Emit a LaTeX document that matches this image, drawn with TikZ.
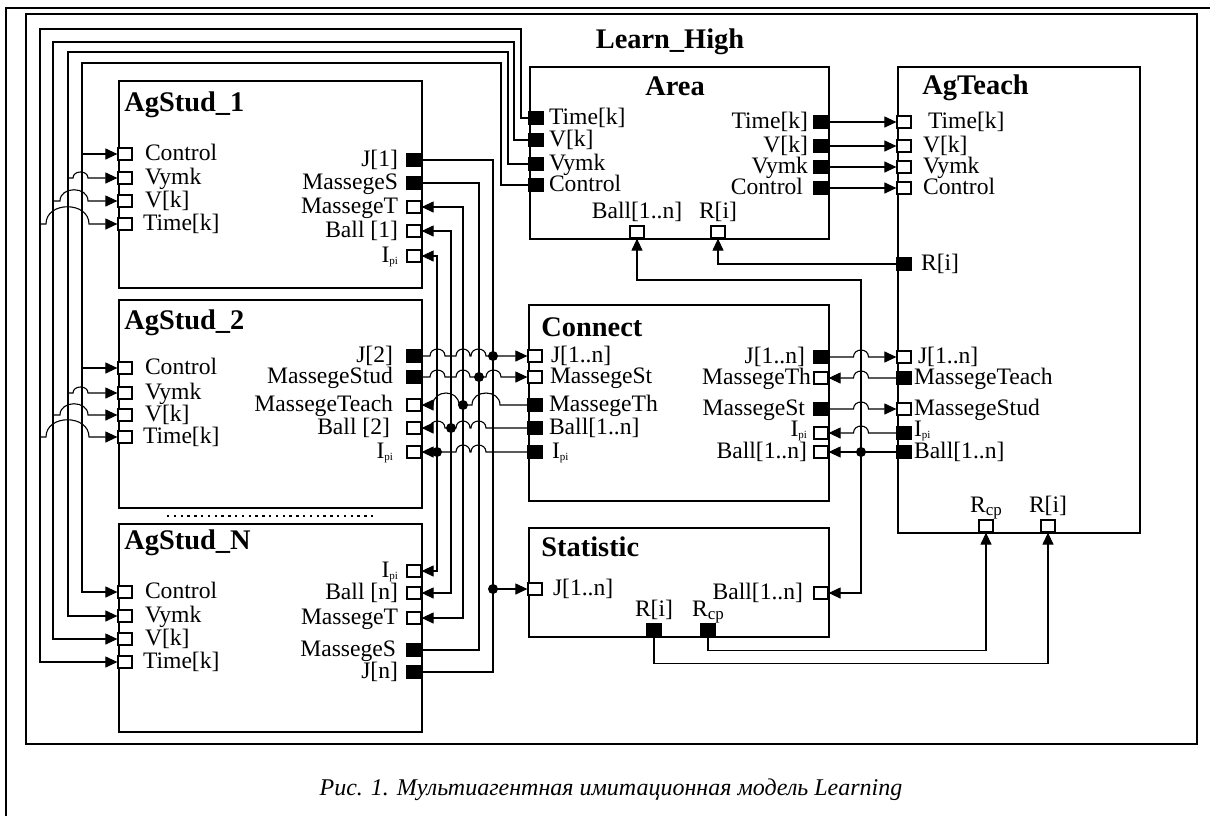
\documentclass[tikz,border=0pt]{standalone}
\usepackage{fontspec}
\setmainfont{Liberation Serif}
\usetikzlibrary{arrows.meta,positioning}
\newcommand\portfont{\fontsize{11.8pt}{12pt}\selectfont}
\newcommand\blockfont{\fontsize{14.2pt}{16pt}\selectfont\bfseries}
\newcommand\Ipi{I\raisebox{-1.2pt}{\fontsize{5.5pt}{6pt}\selectfont pi}}
\newcommand\Rcp{R\raisebox{-1.5pt}{\fontsize{8.5pt}{9pt}\selectfont cp}}
% jump of a wire over a crossing one
\newcommand\hop[4]{-- (#1,#3) .. controls +(0,-#4) and +(0,-#4) .. (#2,#3)}
\tikzset{
  block/.style={draw, line width=1.15pt, inner sep=0pt, anchor=north west},
  blocktitle/.style={font=\blockfont, inner sep=0pt, anchor=base west},
  pinw/.style={draw, fill=white, line width=0.6pt, minimum width=7pt, minimum height=6pt, inner sep=0pt},
  pinb/.style={pinw, fill=black},
  lbl/.style={font=\portfont, inner sep=0pt, text height=7.5pt, text depth=1.5pt},
  toR/.style 2 args={label={[lbl,label distance=#1]right:{#2}}},
  toL/.style 2 args={label={[lbl,label distance=#1]left:{#2}}},
  toU/.style 2 args={label={[lbl,label distance=#1]above:{#2}}},
  wire/.style={line width=0.55pt},
  junction/.style={circle, fill=black, inner sep=0pt, minimum size=5pt},
  >={Triangle[length=6pt,width=5.5pt]},
}
\begin{document}
\begin{tikzpicture}[x=0.5pt, y=-0.5pt]
  \useasboundingbox (0,0) rectangle (1210,816);
  % frames
  \draw[line width=1pt] (6,816) -- (6,8) -- (1210,8);
  \draw[line width=1.4pt] (26,14) rectangle (1197,744);
  \node[blocktitle, anchor=base] (lh) at (670,48) {Learn\_High};

  % blocks
  \node[block, minimum width=151.5pt, minimum height=103.5pt] (s1) at (118,80) {};
  \node[block, minimum width=151.5pt, minimum height=104pt] (s2) at (118,299) {};
  \node[block, minimum width=151.5pt, minimum height=104pt] (sN) at (118,523) {};
  \node[block, minimum width=149.5pt, minimum height=86pt] (area) at (529,66) {};
  \node[block, minimum width=121pt, minimum height=233pt] (teach) at (897,66) {};
  \node[block, minimum width=150pt, minimum height=98pt] (conn) at (528,304) {};
  \node[block, minimum width=150pt, minimum height=54.5pt] (stat) at (528,527) {};
  \node[blocktitle] (s1t) at (124,111) {AgStud\_1};
  \node[blocktitle] (s2t) at (124,329) {AgStud\_2};
  \node[blocktitle] (sNt) at (124,549) {AgStud\_N};
  \node[blocktitle, anchor=base] (areat) at (675,95) {Area};
  \node[blocktitle] (teacht) at (922,94) {AgTeach};
  \node[blocktitle] (connt) at (541,336) {Connect};
  \node[blocktitle] (statt) at (541,556) {Statistic};
  \draw[dash pattern=on 1.2pt off 2.2pt, line width=0.6pt] (167,516) -- (373,516);

  % student inputs
  \foreach \s/\yc/\ym/\yv/\yt in {1/154/178/201/224, 2/368/393/415/437, N/592/616/639/662}{
    \node[pinw, toR={6pt}{Control}] (s\s ctl) at (125,\yc) {};
    \node[pinw, toR={6pt}{Vymk}] (s\s vym) at (125,\ym) {};
    \node[pinw, toR={6pt}{V[k]}] (s\s vk) at (125,\yv) {};
    \node[pinw, toR={5pt}{Time[k]}] (s\s tk) at (125,\yt) {};
  }
  % student outputs
  \node[pinb, toL={4pt}{J[1]}] (s1J) at (414,160) {};
  \node[pinb, toL={4pt}{MassegeS}] (s1MS) at (414,183) {};
  \node[pinw, toL={4pt}{MassegeT}] (s1MT) at (414,207) {};
  \node[pinw, toL={4pt}{Ball [1]}] (s1Ball) at (414,231) {};
  \node[pinw, toL={4pt}{\Ipi}] (s1Ip) at (414,256) {};
  \node[pinb, toL={6.5pt}{J[2]}] (s2J) at (414,356) {};
  \node[pinb, toL={6.5pt}{MassegeStud}] (s2MS) at (414,377) {};
  \node[pinw, toL={6.5pt}{MassegeTeach}] (s2MT) at (414,405) {};
  \node[pinw, toL={8pt}{Ball [2]}] (s2Ball) at (414,428) {};
  \node[pinw, toL={6.5pt}{\Ipi}] (s2Ip) at (414,452) {};
  \node[pinw, toL={4pt}{\Ipi}] (sNIp) at (414,571) {};
  \node[pinw, toL={4pt}{Ball [n]}] (sNBall) at (414,593) {};
  \node[pinw, toL={4pt}{MassegeT}] (sNMT) at (414,618) {};
  \node[pinb, toL={5pt}{MassegeS}] (sNMS) at (414,650) {};
  \node[pinb, toL={4pt}{J[n]}] (sNJ) at (414,672) {};

  % Area
  \node[pinb, toR={2.5pt}{Time[k]}] (aTk) at (536,118) {};
  \node[pinb, toR={2.5pt}{V[k]}] (aVk) at (536,140) {};
  \node[pinb, toR={2.5pt}{Vymk}] (aVym) at (536,164) {};
  \node[pinb, toR={2.5pt}{Control}] (aCtl) at (536,185) {};
  \node[pinb, toL={2.5pt}{Time[k]}] (aTkR) at (821,122) {};
  \node[pinb, toL={2.5pt}{V[k]}] (aVkR) at (821,146) {};
  \node[pinb, toL={2.5pt}{Vymk}] (aVymR) at (821,167) {};
  \node[pinb, toL={5pt}{Control}] (aCtlR) at (821,188) {};
  \node[pinw, toU={2pt}{Ball[1..n]}] (aBall) at (637,232) {};
  \node[pinw, toU={2pt}{R[i]}] (aRi) at (718,232) {};

  % AgTeach
  \node[pinw, toR={8pt}{Time[k]}] (tTk) at (904,122) {};
  \node[pinw, toR={5.5pt}{V[k]}] (tVk) at (904,146) {};
  \node[pinw, toR={5.5pt}{Vymk}] (tVym) at (904,167) {};
  \node[pinw, toR={5.5pt}{Control}] (tCtl) at (904,188) {};
  \node[pinb, toR={4.5pt}{R[i]}] (tRi) at (904,264) {};
  \node[pinw, toR={3pt}{J[1..n]}] (tJ) at (904,357) {};
  \node[pinb, toR={1pt}{MassegeTeach}] (tMT) at (904,378) {};
  \node[pinw, toR={1pt}{MassegeStud}] (tMS) at (904,409) {};
  \node[pinb, label={[lbl,label distance=1pt,yshift=1.5pt]right:{\Ipi}}] (tIp) at (904,433) {};
  \node[pinb, toR={1pt}{Ball[1..n]}] (tBall) at (904,452) {};
  \node[pinw, toU={2pt}{\Rcp}] (tRcp) at (986,526) {};
  \node[pinw, toU={2pt}{R[i]}] (tRi2) at (1048,526) {};

  % Connect
  \node[pinw, toR={4pt}{J[1..n]}] (cJ) at (535,356) {};
  \node[pinw, toR={3.5pt}{MassegeSt}] (cMS) at (535,377) {};
  \node[pinb, toR={3pt}{MassegeTh}] (cMT) at (535,405) {};
  \node[pinb, toR={3pt}{Ball[1..n]}] (cBall) at (535,428) {};
  \node[pinb, toR={4.5pt}{\Ipi}] (cIp) at (535,452) {};
  \node[pinb, toL={4pt}{J[1..n]}] (cJo) at (821,357) {};
  \node[pinw, toL={1pt}{MassegeTh}] (cMTi) at (821,378) {};
  \node[pinb, toL={4pt}{MassegeSt}] (cMSo) at (821,409) {};
  \node[pinw, label={[lbl,label distance=3pt,yshift=1.5pt]left:{\Ipi}}] (cIpi) at (821,433) {};
  \node[pinw, toL={3pt}{Ball[1..n]}] (cBalli) at (821,452) {};

  % Statistic
  \node[pinw, toR={5pt}{J[1..n]}] (stJ) at (535,589) {};
  \node[pinw, toL={5pt}{Ball[1..n]}] (stBall) at (821,593) {};
  \node[pinb, toU={2pt}{R[i]}] (stRi) at (654,630) {};
  \node[pinb, toU={2pt}{\Rcp}] (stRcp) at (708,630) {};

  % Area -> students
  \draw[wire,->] (aTk.west) -| (521,29) -| (40,662) -- (sNtk.west);
  \draw[wire,->] (aVk.west) -| (514,42) -| (53,639) -- (sNvk.west);
  \draw[wire,->] (aVym.west) -| (508,52) -| (68,616) -- (sNvym.west);
  \draw[wire,->] (aCtl.west) -| (501,63) -| (82,592) -- (sNctl.west);
  \foreach \s/\yc/\ym/\yv/\yt in {1/154/178/201/224, 2/368/393/415/437}{
    \draw[wire,->] (82,\yc) -- (s\s ctl.west);
    \draw[wire,->] (68,\ym) \hop{73}{88}{\ym}{8} -- (s\s vym.west);
    \draw[wire,->] (53,\yv) \hop{60}{88}{\yv}{15} -- (s\s vk.west);
    \draw[wire,->] (40,\yt) \hop{46}{89}{\yt}{23} -- (s\s tk.west);
  }
  % Area -> AgTeach
  \draw[wire,->] (aTkR.east) -- (tTk.west);
  \draw[wire,->] (aVkR.east) -- (tVk.west);
  \draw[wire,->] (aVymR.east) -- (tVym.west);
  \draw[wire,->] (aCtlR.east) -- (tCtl.west);

  % students <-> Connect, Statistic
  \draw[wire] (s1J.east) -| (493,672) -- (sNJ.east);
  \draw[wire,->] (s2J.east) \hop{430}{445}{356}{9.3} \hop{456}{470}{356}{9.3} \hop{471}{486}{356}{9.3} -- (cJ.west);
  \draw[wire,->] (493,589) -- (stJ.west);
  \draw[wire] (s1MS.east) -| (479,650) -- (sNMS.east);
  \draw[wire,->] (s2MS.east) \hop{430}{445}{377}{9.3} \hop{456}{470}{377}{9.3} \hop{486}{501}{377}{9.3} -- (cMS.west);
  \draw[wire,->] (463,405) |- (s1MT.east);
  \draw[wire,->] (463,405) |- (sNMT.east);
  \draw[wire,->] (cMT.west) \hop{500}{472}{405}{16} \hop{459}{433}{405}{16} -- (s2MT.east);
  \draw[wire,->] (451,428) |- (s1Ball.east);
  \draw[wire,->] (451,428) |- (sNBall.east);
  \draw[wire,->] (cBall.west) \hop{486}{471}{428}{9.3} \hop{470}{456}{428}{9.3} \hop{445}{430}{428}{9.3} -- (s2Ball.east);
  \draw[wire,->] (437,452) |- (s1Ip.east);
  \draw[wire,->] (437,452) |- (sNIp.east);
  \draw[wire,->] (cIp.west) \hop{486}{471}{452}{9.3} \hop{470}{456}{452}{9.3} -- (s2Ip.east);

  % Connect <-> AgTeach
  \draw[wire,->] (cJo.east) \hop{853.5}{868.5}{357}{9.3} -- (tJ.west);
  \draw[wire,->] (tMT.west) \hop{868.5}{853.5}{378}{9.3} -- (cMTi.east);
  \draw[wire,->] (cMSo.east) \hop{853.5}{868.5}{409}{9.3} -- (tMS.west);
  \draw[wire,->] (tIp.west) \hop{868.5}{853.5}{433}{9.3} -- (cIpi.east);
  \draw[wire,->] (tBall.west) -- (cBalli.east);
  \draw[wire,->] (861,452) |- (637,280) -- (aBall.south);
  \draw[wire,->] (861,452) |- (stBall.east);
  \draw[wire,->] (tRi.west) -| (aRi.south);
  \draw[wire,->] (stRcp.south) -- ++(0,14) -| (tRcp.south);
  \draw[wire,->] (stRi.south) -- ++(0,27) -| (tRi2.south);

  % junctions
  \node[junction] (jJ) at (493,356) {};
  \node[junction] (jMS) at (479,377) {};
  \node[junction] (jMT) at (463,405) {};
  \node[junction] (jBall) at (451,428) {};
  \node[junction] (jIp) at (437,452) {};
  \node[junction] (jSt) at (493,589) {};
  \node[junction] (jTB) at (861,452) {};

  \node[font=\fontsize{12pt}{14pt}\selectfont\itshape, anchor=base] (cap) at (611,795) {Рис. 1. Мультиагентная имитационная модель Learning};
\end{tikzpicture}
\end{document}
